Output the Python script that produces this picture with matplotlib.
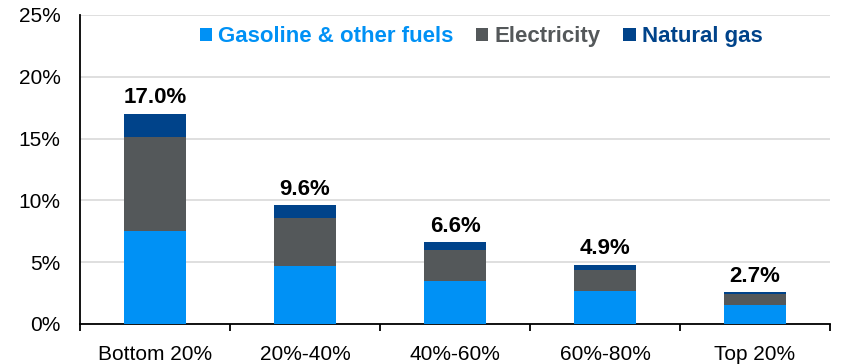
import numpy as np
import matplotlib
matplotlib.use("Agg")
import matplotlib.pyplot as plt

plt.rcParams['font.family'] = ['Liberation Sans', 'DejaVu Sans']

# data (share of income, %)
groups = ["Bottom 20%", "20%-40%", "40%-60%", "60%-80%", "Top 20%"]
gasoline = [7.55, 4.65, 3.5, 2.7, 1.5]
electricity = [7.6, 3.95, 2.5, 1.65, 0.9]
natural_gas = [1.85, 1.0, 0.6, 0.45, 0.15]
totals = ["17.0%", "9.6%", "6.6%", "4.9%", "2.7%"]

c_gas = '#0091F5'
c_elec = '#54585A'
c_ng = '#00438A'

fig = plt.figure(figsize=(8.44, 3.64), dpi=100)
ax = fig.add_axes([0.0948, 0.11, 0.8886, 0.849])

x = np.arange(len(groups))
w = 0.41
ax.bar(x, gasoline, w, color=c_gas, label='Gasoline & other fuels', zorder=3)
ax.bar(x, electricity, w, bottom=gasoline, color=c_elec, label='Electricity', zorder=3)
bot = np.array(gasoline) + np.array(electricity)
ax.bar(x, natural_gas, w, bottom=bot, color=c_ng, label='Natural gas', zorder=3)

top = bot + np.array(natural_gas)
for xi, ti, lab in zip(x, top, totals):
    ax.text(xi, ti + 0.45, lab, ha='center', va='bottom', fontsize=16, fontweight='bold')

ax.set_ylim(0, 25)
ax.set_xlim(-0.5, len(groups) - 0.5)
ax.set_yticks(np.arange(0, 26, 5))
ax.set_yticklabels(['%d%%' % v for v in range(0, 26, 5)], fontsize=15)
ax.yaxis.grid(True, color='#D9D9D9', linewidth=1.2, zorder=0)
ax.set_axisbelow(True)

# category labels between boundary ticks
ax.set_xticks(np.arange(-0.5, len(groups), 1))
ax.set_xticklabels([])
ax.set_xticks(x, minor=True)
ax.set_xticklabels(groups, minor=True, fontsize=15)
ax.tick_params(axis='x', which='minor', length=0, pad=15)
ax.tick_params(axis='x', which='major', length=5, width=1.3, direction='out')
ax.tick_params(axis='y', length=0, pad=14)

for s in ['top', 'right']:
    ax.spines[s].set_visible(False)
ax.spines['left'].set_linewidth(1.3)
ax.spines['bottom'].set_linewidth(1.3)

leg = ax.legend(loc='center', bbox_to_anchor=(0.535, 0.929), ncol=3, frameon=False,
                handlelength=0.55, handleheight=0.55, handletextpad=0.3, columnspacing=1.0,
                prop={'size': 16, 'weight': 'bold'})
for t, c in zip(leg.get_texts(), [c_gas, c_elec, c_ng]):
    t.set_color(c)

fig.savefig('out.png', dpi=100)
